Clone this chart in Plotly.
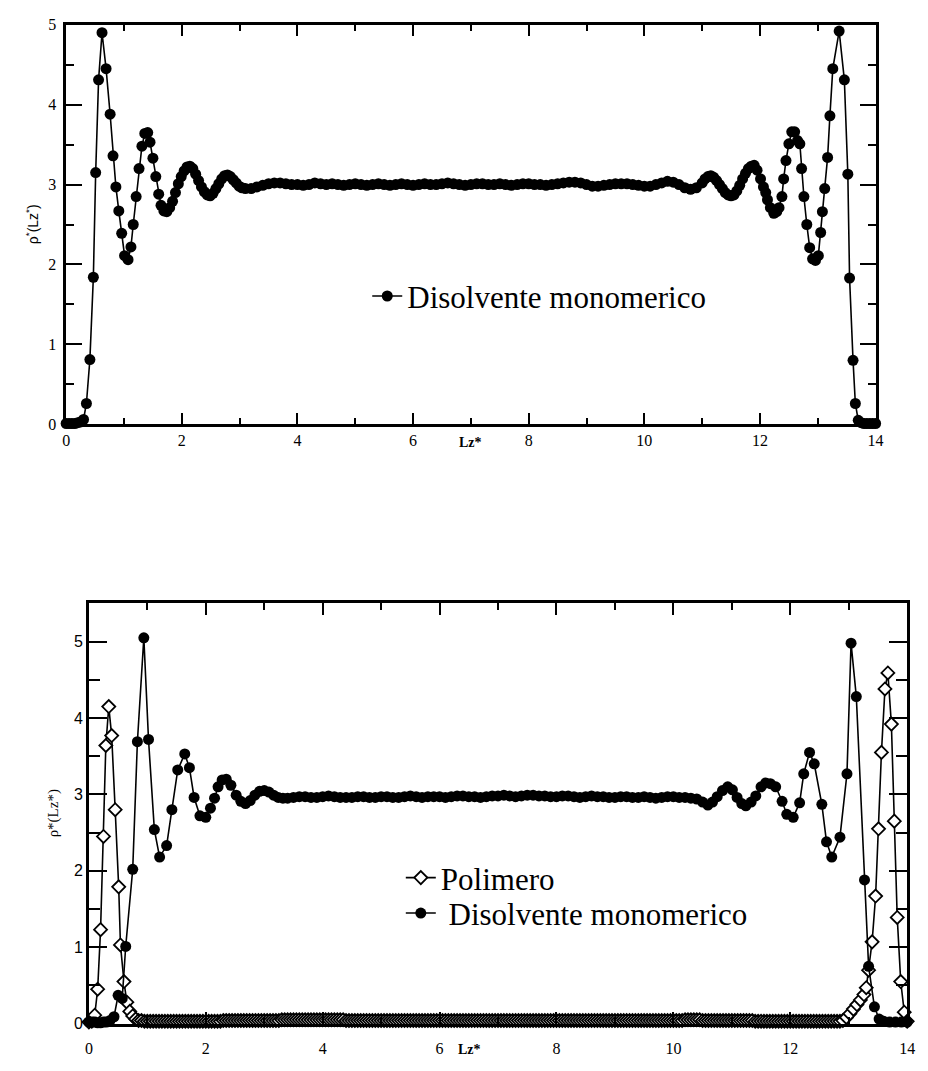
import plotly.graph_objects as go

# ---------------- data ----------------
# Top panel: solvent (Disolvente monomerico)
top_x = [0.00, 0.05, 0.10, 0.15, 0.20, 0.25, 0.30, 0.35, 0.41, 0.47, 0.51, 0.56, 0.62, 0.69, 0.76, 0.81, 0.86, 0.91, 0.96,
         1.01, 1.07, 1.12, 1.16, 1.21, 1.26, 1.31, 1.36, 1.41, 1.45, 1.50, 1.55, 1.60, 1.64, 1.69, 1.74, 1.79, 1.84, 1.89, 1.94, 1.99,
         2.04, 2.09, 2.14, 2.19, 2.24, 2.29, 2.34, 2.39, 2.44, 2.49, 2.54, 2.59, 2.64, 2.69, 2.74, 2.79, 2.84, 2.89, 2.94, 2.99,
         3.04,
         3.1, 3.2, 3.3, 3.4, 3.5, 3.6, 3.7, 3.8, 3.9,
         4.0, 4.1, 4.2, 4.3, 4.4, 4.5, 4.6, 4.7, 4.8, 4.9,
         5.0, 5.1, 5.2, 5.3, 5.4, 5.5, 5.6, 5.7, 5.8, 5.9,
         6.0, 6.1, 6.2, 6.3, 6.4, 6.5, 6.6, 6.7, 6.8, 6.9,
         7.0, 7.1, 7.2, 7.3, 7.4, 7.5, 7.6, 7.7, 7.8, 7.9,
         8.0, 8.1, 8.2, 8.3, 8.4, 8.5, 8.6, 8.7, 8.8, 8.9,
         9.0, 9.1, 9.2, 9.3, 9.4, 9.5, 9.6, 9.7, 9.8, 9.9,
         10.0, 10.1, 10.2, 10.3, 10.4, 10.5, 10.6, 10.7, 10.8, 10.9,
         11.00, 11.05, 11.10, 11.15, 11.20, 11.25, 11.30, 11.35, 11.40, 11.45,
         11.50, 11.55, 11.60, 11.65, 11.70, 11.75, 11.80, 11.85, 11.90, 11.95,
         12.01, 12.06, 12.10, 12.13, 12.18, 12.24, 12.29, 12.33, 12.38, 12.41, 12.45,
         12.50, 12.55, 12.60, 12.65, 12.69, 12.72, 12.76, 12.81, 12.86, 12.91, 12.96,
         13.01, 13.05, 13.08, 13.12, 13.17, 13.21, 13.26, 13.37, 13.46, 13.52,
         13.55, 13.61, 13.65, 13.70, 13.75, 13.80, 13.85, 13.90, 13.95, 14.00]
top_y = [0.01, 0.01, 0.01, 0.01, 0.02, 0.03, 0.06, 0.26, 0.81, 1.84, 3.15, 4.31, 4.90, 4.45, 3.88, 3.36, 2.97, 2.67, 2.39,
         2.11, 2.06, 2.22, 2.50, 2.85, 3.20, 3.48, 3.64, 3.65, 3.53, 3.33, 3.10, 2.88, 2.74, 2.67, 2.66, 2.71, 2.79, 2.90, 3.01, 3.10,
         3.17, 3.22, 3.23, 3.20, 3.13, 3.05, 2.97, 2.91, 2.87, 2.86, 2.89, 2.95, 3.01, 3.07, 3.11, 3.12, 3.10, 3.06, 3.02, 2.98,
         2.96,
         2.95, 2.95, 2.97, 2.99, 3.01, 3.02, 3.02, 3.01, 3.00,
         3.00, 2.99, 3.00, 3.02, 3.01, 3.00, 3.01, 3.00, 2.99, 3.00,
         3.01, 3.00, 2.99, 3.00, 3.01, 3.00, 2.99, 3.00, 3.01, 3.00,
         2.99, 3.00, 3.01, 3.00, 3.00, 3.01, 3.02, 3.01, 3.00, 2.99,
         3.00, 3.01, 3.01, 3.00, 3.00, 3.01, 3.00, 2.99, 3.00, 3.01,
         3.01, 3.00, 3.00, 2.99, 3.00, 3.01, 3.02, 3.03, 3.03, 3.02,
         3.00, 2.98, 2.98, 2.99, 3.00, 3.01, 3.01, 3.01, 3.00, 2.99,
         2.98, 2.98, 3.00, 3.02, 3.04, 3.03, 3.00, 2.96, 2.94, 2.96,
         3.02, 3.07, 3.10, 3.11, 3.09, 3.05, 3.00, 2.95, 2.90, 2.87,
         2.86, 2.87, 2.92, 2.99, 3.07, 3.14, 3.20, 3.23, 3.24, 3.18,
         3.07, 2.97, 2.90, 2.81, 2.71, 2.64, 2.66, 2.71, 2.85, 3.07, 3.30,
         3.51, 3.66, 3.66, 3.55, 3.51, 3.20, 2.85, 2.50, 2.21, 2.07, 2.05,
         2.11, 2.40, 2.66, 2.95, 3.34, 3.86, 4.45, 4.92, 4.31, 3.13,
         1.83, 0.80, 0.26, 0.05, 0.02, 0.01, 0.01, 0.01, 0.01, 0.01]

# Bottom panel: solvent (Disolvente monomerico)
bot_solv_x = [0.00, 0.05, 0.10, 0.15, 0.20, 0.25, 0.30, 0.36,
              0.43, 0.50, 0.57, 0.63, 0.75, 0.83, 0.94, 1.02,
              1.12, 1.21, 1.33, 1.42, 1.52, 1.64, 1.72, 1.80,
              1.90, 2.00, 2.08, 2.15, 2.21, 2.28, 2.35, 2.43,
              2.52, 2.60, 2.68, 2.76, 2.84, 2.92, 3.00, 3.08,
              3.16, 3.24, 3.32, 3.40,
              3.5, 3.6, 3.7, 3.8, 3.9,
              4.0, 4.1, 4.2, 4.3, 4.4, 4.5, 4.6, 4.7, 4.8, 4.9,
              5.0, 5.1, 5.2, 5.3, 5.4, 5.5, 5.6, 5.7, 5.8, 5.9,
              6.0, 6.1, 6.2, 6.3, 6.4, 6.5, 6.6, 6.7, 6.8, 6.9,
              7.0, 7.1, 7.2, 7.3, 7.4, 7.5, 7.6, 7.7, 7.8, 7.9,
              8.0, 8.1, 8.2, 8.3, 8.4, 8.5, 8.6, 8.7, 8.8, 8.9,
              9.0, 9.1, 9.2, 9.3, 9.4, 9.5, 9.6, 9.7, 9.8, 9.9,
              10.0, 10.1, 10.2, 10.3, 10.4,
              10.50, 10.59, 10.67, 10.75, 10.84, 10.93, 11.01, 11.09,
              11.17, 11.24, 11.33, 11.41, 11.50, 11.58, 11.66, 11.75,
              11.86, 11.94, 12.05, 12.16, 12.23, 12.33, 12.41, 12.54,
              12.62, 12.71, 12.85, 12.97, 13.04, 13.13, 13.27, 13.34,
              13.44, 13.52, 13.60, 13.70, 13.80, 13.90, 14.00]
bot_solv_y = [0.02, 0.02, 0.02, 0.01, 0.01, 0.02, 0.02, 0.04,
              0.09, 0.37, 0.33, 1.01, 2.02, 3.69, 5.05, 3.72,
              2.54, 2.18, 2.33, 2.80, 3.32, 3.53, 3.35, 2.96,
              2.72, 2.70, 2.82, 2.95, 3.10, 3.19, 3.20, 3.12,
              2.99, 2.91, 2.88, 2.92, 2.99, 3.04, 3.05, 3.03,
              2.99, 2.96, 2.95, 2.95,
              2.96, 2.97, 2.97, 2.96, 2.96,
              2.97, 2.98, 2.97, 2.96, 2.96, 2.96, 2.97, 2.97, 2.96, 2.96,
              2.97, 2.97, 2.96, 2.96, 2.97, 2.98, 2.97, 2.96, 2.97, 2.97,
              2.97, 2.96, 2.97, 2.98, 2.98, 2.97, 2.97, 2.96, 2.97, 2.98,
              2.98, 2.99, 2.98, 2.97, 2.98, 2.99, 2.99, 2.98, 2.98, 2.97,
              2.97, 2.98, 2.98, 2.97, 2.96, 2.97, 2.98, 2.97, 2.97, 2.96,
              2.96, 2.97, 2.97, 2.96, 2.96, 2.97, 2.96, 2.95, 2.96, 2.97,
              2.97, 2.96, 2.96, 2.95, 2.94,
              2.90, 2.86, 2.90, 2.97, 3.05, 3.10, 3.06, 2.96,
              2.88, 2.85, 2.90, 2.98, 3.10, 3.15, 3.14, 3.10,
              2.91, 2.74, 2.70, 2.89, 3.27, 3.55, 3.40, 2.87,
              2.38, 2.18, 2.44, 3.27, 4.98, 4.28, 1.88, 0.75,
              0.22, 0.06, 0.03, 0.02, 0.02, 0.02, 0.02]

# Bottom panel: polymer (Polimero)
bot_poly_x = [0.00, 0.05, 0.10, 0.15, 0.20, 0.25, 0.29, 0.34, 0.39, 0.45, 0.51, 0.54, 0.60, 0.65, 0.70, 0.75, 0.80, 0.85,
              0.90, 0.95,
              1.00, 1.05, 1.10, 1.15, 1.20, 1.25, 1.30, 1.35, 1.40, 1.45, 1.50, 1.55, 1.60, 1.65, 1.70, 1.75, 1.80, 1.85, 1.90, 1.95,
              2.00, 2.05, 2.10, 2.15, 2.20, 2.25, 2.30, 2.35, 2.40, 2.45, 2.50, 2.55, 2.60, 2.65, 2.70, 2.75, 2.80, 2.85, 2.90, 2.95,
              3.00, 3.05, 3.10, 3.15, 3.20, 3.25, 3.30, 3.35, 3.40, 3.45, 3.50, 3.55, 3.60, 3.65, 3.70, 3.75, 3.80, 3.85, 3.90, 3.95,
              4.00, 4.05, 4.10, 4.15, 4.20, 4.25, 4.30, 4.35, 4.40, 4.45, 4.50, 4.55, 4.60, 4.65, 4.70, 4.75, 4.80, 4.85, 4.90, 4.95,
              5.00, 5.05, 5.10, 5.15, 5.20, 5.25, 5.30, 5.35, 5.40, 5.45, 5.50, 5.55, 5.60, 5.65, 5.70, 5.75, 5.80, 5.85, 5.90, 5.95,
              6.00, 6.05, 6.10, 6.15, 6.20, 6.25, 6.30, 6.35, 6.40, 6.45, 6.50, 6.55, 6.60, 6.65, 6.70, 6.75, 6.80, 6.85, 6.90, 6.95,
              7.00, 7.05, 7.10, 7.15, 7.20, 7.25, 7.30, 7.35, 7.40, 7.45, 7.50, 7.55, 7.60, 7.65, 7.70, 7.75, 7.80, 7.85, 7.90, 7.95,
              8.00, 8.05, 8.10, 8.15, 8.20, 8.25, 8.30, 8.35, 8.40, 8.45, 8.50, 8.55, 8.60, 8.65, 8.70, 8.75, 8.80, 8.85, 8.90, 8.95,
              9.00, 9.05, 9.10, 9.15, 9.20, 9.25, 9.30, 9.35, 9.40, 9.45, 9.50, 9.55, 9.60, 9.65, 9.70, 9.75, 9.80, 9.85, 9.90, 9.95,
              10.00, 10.05, 10.10, 10.15, 10.20, 10.25, 10.30, 10.35, 10.40, 10.45, 10.50, 10.55, 10.60, 10.65, 10.70, 10.75, 10.80, 10.85, 10.90, 10.95,
              11.00, 11.05, 11.10, 11.15, 11.20, 11.25, 11.30, 11.35, 11.40, 11.45, 11.50, 11.55, 11.60, 11.65, 11.70, 11.75, 11.80, 11.85, 11.90, 11.95,
              12.00, 12.05, 12.10, 12.15, 12.20, 12.25, 12.30, 12.35, 12.40, 12.45, 12.50, 12.55, 12.60, 12.65, 12.70, 12.75, 12.80, 12.85,
              12.90, 12.96, 13.02, 13.08, 13.14, 13.20, 13.26, 13.30, 13.34, 13.40, 13.46,
              13.51, 13.56, 13.62, 13.67, 13.73, 13.78, 13.83, 13.89, 13.95, 14.00]
bot_poly_y = [0.02, 0.03, 0.11, 0.45, 1.23, 2.45, 3.64, 4.15, 3.77, 2.80, 1.79, 1.03, 0.55, 0.28, 0.16, 0.10, 0.06, 0.04,
              0.04, 0.03,
              0.03, 0.03, 0.03, 0.03, 0.03, 0.03, 0.03, 0.03, 0.03, 0.03, 0.03, 0.03, 0.03, 0.03, 0.03, 0.03, 0.03, 0.03, 0.03, 0.03,
              0.03, 0.03, 0.03, 0.03, 0.03, 0.03, 0.04, 0.04, 0.04, 0.04, 0.04, 0.04, 0.04, 0.04, 0.04, 0.04, 0.04, 0.04, 0.04, 0.04,
              0.04, 0.04, 0.04, 0.04, 0.04, 0.04, 0.05, 0.05, 0.05, 0.05, 0.05, 0.05, 0.05, 0.05, 0.05, 0.05, 0.05, 0.05, 0.05, 0.05,
              0.05, 0.05, 0.05, 0.05, 0.05, 0.05, 0.05, 0.05, 0.04, 0.04, 0.04, 0.04, 0.04, 0.04, 0.04, 0.04, 0.04, 0.04, 0.04, 0.04,
              0.04, 0.04, 0.04, 0.04, 0.04, 0.04, 0.04, 0.04, 0.04, 0.04, 0.04, 0.04, 0.04, 0.04, 0.04, 0.04, 0.04, 0.04, 0.04, 0.04,
              0.04, 0.04, 0.04, 0.04, 0.04, 0.04, 0.04, 0.04, 0.04, 0.04, 0.04, 0.04, 0.04, 0.04, 0.04, 0.04, 0.04, 0.04, 0.04, 0.04,
              0.04, 0.04, 0.04, 0.04, 0.04, 0.04, 0.04, 0.04, 0.04, 0.04, 0.04, 0.04, 0.04, 0.04, 0.04, 0.04, 0.04, 0.04, 0.04, 0.04,
              0.04, 0.04, 0.04, 0.04, 0.04, 0.04, 0.04, 0.04, 0.04, 0.04, 0.04, 0.04, 0.04, 0.04, 0.04, 0.04, 0.04, 0.04, 0.04, 0.04,
              0.04, 0.04, 0.04, 0.04, 0.04, 0.04, 0.04, 0.04, 0.04, 0.04, 0.04, 0.04, 0.04, 0.04, 0.04, 0.04, 0.04, 0.04, 0.04, 0.04,
              0.04, 0.04, 0.04, 0.04, 0.05, 0.05, 0.05, 0.05, 0.05, 0.05, 0.04, 0.04, 0.04, 0.04, 0.04, 0.04, 0.04, 0.04, 0.04, 0.04,
              0.04, 0.04, 0.04, 0.04, 0.04, 0.04, 0.04, 0.04, 0.03, 0.03, 0.03, 0.03, 0.03, 0.03, 0.03, 0.03, 0.03, 0.03, 0.03, 0.03,
              0.03, 0.03, 0.03, 0.03, 0.03, 0.03, 0.03, 0.03, 0.03, 0.03, 0.03, 0.03, 0.03, 0.03, 0.03, 0.03, 0.03, 0.03,
              0.04, 0.08, 0.13, 0.19, 0.25, 0.31, 0.38, 0.47, 0.70, 1.07, 1.67,
              2.55, 3.55, 4.38, 4.59, 3.92, 2.65, 1.39, 0.55, 0.15, 0.03]

assert len(top_x) == len(top_y)
assert len(bot_solv_x) == len(bot_solv_y)
assert len(bot_poly_x) == len(bot_poly_y)

x_ticks = [0, 2, 4, 6, 8, 10, 12, 14]
y_ticks_top = [0, 1, 2, 3, 4, 5]
y_ticks_bot = [0, 1, 2, 3, 4, 5]

# ---------------- figure ----------------
W, H = 928, 1071
SERIF = "Liberation Serif, Times New Roman, serif"
SANS = "Liberation Sans, Arial, sans-serif"

fig = go.Figure()

fig.add_trace(go.Scatter(
    x=top_x, y=top_y, mode="lines+markers", xaxis="x", yaxis="y",
    name="Disolvente monomerico", legend="legend",
    line=dict(color="black", width=1.6),
    marker=dict(symbol="circle", size=11, color="black"),
    cliponaxis=False))

fig.add_trace(go.Scatter(
    x=bot_poly_x, y=bot_poly_y, mode="lines+markers", xaxis="x2", yaxis="y2",
    name="Polimero", legend="legend2",
    line=dict(color="black", width=1.6),
    marker=dict(symbol="diamond", size=10, color="white", line=dict(color="black", width=1.8)),
    cliponaxis=False))

fig.add_trace(go.Scatter(
    x=bot_solv_x, y=bot_solv_y, mode="lines+markers", xaxis="x2", yaxis="y2",
    name="\u00a0Disolvente monomerico", legend="legend3",
    line=dict(color="black", width=1.6),
    marker=dict(symbol="circle", size=11, color="black"),
    cliponaxis=False))


def px_x(p):
    return p / W


def px_y(p):
    return 1 - p / H


common_x = dict(range=[0, 14], tickvals=x_ticks, ticks="inside", ticklen=12, tickwidth=2,
                tickcolor="black", showline=True, linewidth=2.5, linecolor="black", mirror="ticks",
                showgrid=False, zeroline=False,
                minor=dict(dtick=1, ticks="inside", ticklen=7, tickwidth=2, tickcolor="black"),
                tickfont=dict(family=SERIF, size=16, color="black"))

legend_common = dict(xanchor="left", yanchor="middle", bgcolor="rgba(0,0,0,0)",
                     font=dict(family=SERIF, size=31, color="black"))

fig.update_layout(
    width=W, height=H,
    margin=dict(l=0, r=0, t=0, b=0),
    paper_bgcolor="white", plot_bgcolor="white",
    showlegend=True,
    xaxis=dict(domain=[px_x(63), px_x(883)], anchor="y", **common_x),
    yaxis=dict(domain=[px_y(423), px_y(17)], anchor="x", range=[0, 5], tickvals=y_ticks_top,
               ticks="inside", ticklen=16, tickwidth=2, tickcolor="black",
               showline=True, linewidth=2.5, linecolor="black", mirror="ticks",
               showgrid=False, zeroline=False, ticklabelstandoff=4,
               minor=dict(dtick=0.5, ticks="inside", ticklen=8, tickwidth=2, tickcolor="black"),
               tickfont=dict(family=SERIF, size=16, color="black")),
    xaxis2=dict(domain=[px_x(86), px_x(915)], anchor="y2", ticklabelstandoff=8, **common_x),
    yaxis2=dict(domain=[px_y(1032), px_y(605)], anchor="x2", range=[0, 5.5], tickvals=y_ticks_bot,
                ticks="inside", ticklen=18, tickwidth=2, tickcolor="black",
                showline=True, linewidth=2.5, linecolor="black", mirror="ticks",
                showgrid=False, zeroline=False,
                minor=dict(dtick=0.5, ticks="inside", ticklen=11, tickwidth=2, tickcolor="black"),
                tickfont=dict(family=SANS, size=16, color="black")),
    legend=dict(x=px_x(368), y=px_y(293), **legend_common),
    legend2=dict(x=px_x(402), y=px_y(884), **legend_common),
    legend3=dict(x=px_x(402), y=px_y(920), **legend_common),
    annotations=[
        dict(text="<b>Lz*</b>", x=px_x(473), y=px_y(442), xref="paper", yref="paper",
             xanchor="center", yanchor="middle",
             showarrow=False, font=dict(family=SERIF, size=14, color="black")),
        dict(text="<b>Lz*</b>", x=px_x(472), y=px_y(1058), xref="paper", yref="paper",
             xanchor="center", yanchor="middle",
             showarrow=False, font=dict(family=SERIF, size=14, color="black")),
        dict(text="ρ<sup>*</sup>(Lz<sup>*</sup>)", x=px_x(28), y=px_y(220), xref="paper", yref="paper",
             xanchor="center", yanchor="middle",
             showarrow=False, textangle=-90, font=dict(family=SANS, size=14, color="black")),
        dict(text="ρ*(Lz*)", x=px_x(50), y=px_y(818), xref="paper", yref="paper",
             xanchor="center", yanchor="middle",
             showarrow=False, textangle=-90, font=dict(family=SERIF, size=15, color="black")),
    ],
)

fig.write_html("out.html", config={"displayModeBar": False},
               post_script="document.body.style.margin='0';")
